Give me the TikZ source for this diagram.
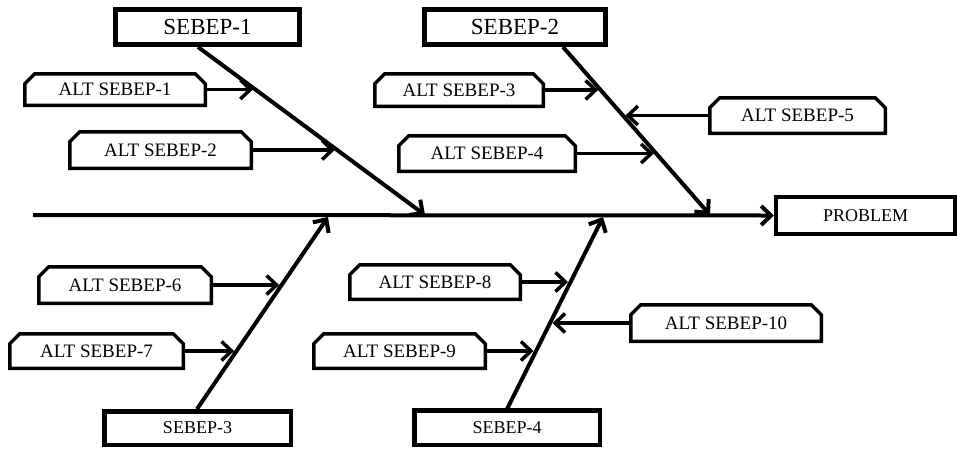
\documentclass[tikz,border=0pt]{standalone}
\usepackage{fontspec}
\setmainfont{Liberation Serif}
\usetikzlibrary{arrows.meta,shapes.misc}
\begin{document}
\begin{tikzpicture}[x=1pt,y=-1pt,
  bigbox/.style={draw, fill=white, rectangle, line width=5pt, inner sep=0pt, font=\fontsize{23}{25}\selectfont},
  midbox/.style={draw, fill=white, rectangle, line width=4.5pt, inner sep=0pt, font=\fontsize{18}{20}\selectfont},
  altbox/.style={draw, fill=white, chamfered rectangle, chamfered rectangle corners={north west,north east}, chamfered rectangle xsep=5pt, chamfered rectangle ysep=5pt, line width=3.5pt, inner sep=0pt, font=\fontsize{19}{21}\selectfont},
  bone/.style={line width=4pt, -{Straight Barb[length=10pt,width=19pt]}},
  twig/.style={line width=3.5pt, -{Straight Barb[length=10pt,width=19pt]}, shorten >=2.5pt},
]
\useasboundingbox (0,0) rectangle (957,451);

% cause boxes
\node[bigbox, minimum width=184pt, minimum height=35pt] (s1) at (207.5,27) {SEBEP-1};
\node[bigbox, minimum width=181pt, minimum height=35pt] (s2) at (515,27) {SEBEP-2};
\node[midbox, minimum width=186.5pt, minimum height=33.5pt] (s3) at (197.5,428) {SEBEP-3};
\node[midbox, minimum width=185.5pt, minimum height=34.5pt] (s4) at (507,427.5) {SEBEP-4};
\node[midbox, line width=4pt, minimum width=179pt, minimum height=36.5pt] (prob) at (865.5,215.5) {PROBLEM};

% sub-cause boxes
\node[altbox, minimum width=180.5pt, minimum height=31.5pt] (a1) at (115,89.5) {ALT SEBEP-1};
\node[altbox, minimum width=181.5pt, minimum height=36.5pt] (a2) at (160.5,150) {ALT SEBEP-2};
\node[altbox, minimum width=168.5pt, minimum height=32.5pt] (a3) at (459,90) {ALT SEBEP-3};
\node[altbox, minimum width=176.5pt, minimum height=35.5pt] (a4) at (487,153.5) {ALT SEBEP-4};
\node[altbox, minimum width=175.5pt, minimum height=35.5pt] (a5) at (797.5,115.5) {ALT SEBEP-5};
\node[altbox, minimum width=172.5pt, minimum height=36.5pt] (a6) at (125,285) {ALT SEBEP-6};
\node[altbox, minimum width=173.5pt, minimum height=34.5pt] (a7) at (96.5,351) {ALT SEBEP-7};
\node[altbox, minimum width=170.5pt, minimum height=34.5pt] (a8) at (435,282) {ALT SEBEP-8};
\node[altbox, minimum width=171.5pt, minimum height=34.5pt] (a9) at (399.5,351) {ALT SEBEP-9};
\node[altbox, minimum width=190.5pt, minimum height=36.5pt] (a10) at (726,323) {ALT SEBEP-10};

% bone end points
\coordinate (spine) at (33,215);
\coordinate (b1s) at (198,47);   \coordinate (b1e) at (425,215);
\coordinate (b2s) at (563,47);   \coordinate (b2e) at (710,215);
\coordinate (b3s) at (197,409);  \coordinate (b3e) at (328,217);
\coordinate (b4s) at (507,409);  \coordinate (b4e) at (603,217);

% points where sub-cause arrows meet the bones
\coordinate (t1) at (255.4,89.5);
\coordinate (t2) at (337.2,150);
\coordinate (t3) at (600.6,90);
\coordinate (t4) at (656.2,153.5);
\coordinate (t5) at (622.9,115.5);
\coordinate (t6) at (281.6,285);
\coordinate (t7) at (236.6,351);
\coordinate (t8) at (570.5,282);
\coordinate (t9) at (536,351);
\coordinate (t10) at (550,323);

% spine and bones
\draw[bone] (spine) -- (prob.west);
\draw[bone] (b1s) -- (b1e);
\draw[bone] (b2s) -- (b2e);
\draw[bone] (b3s) -- (b3e);
\draw[bone] (b4s) -- (b4e);

% sub-cause arrows
\draw[twig] (a1.east) -- (t1);
\draw[twig] (a2.east) -- (t2);
\draw[twig] (a3.east) -- (t3);
\draw[twig] (a4.east) -- (t4);
\draw[twig] (a5.west) -- (t5);
\draw[twig] (a6.east) -- (t6);
\draw[twig] (a7.east) -- (t7);
\draw[twig] (a8.east) -- (t8);
\draw[twig] (a9.east) -- (t9);
\draw[twig] (a10.west) -- (t10);
\end{tikzpicture}
\end{document}
